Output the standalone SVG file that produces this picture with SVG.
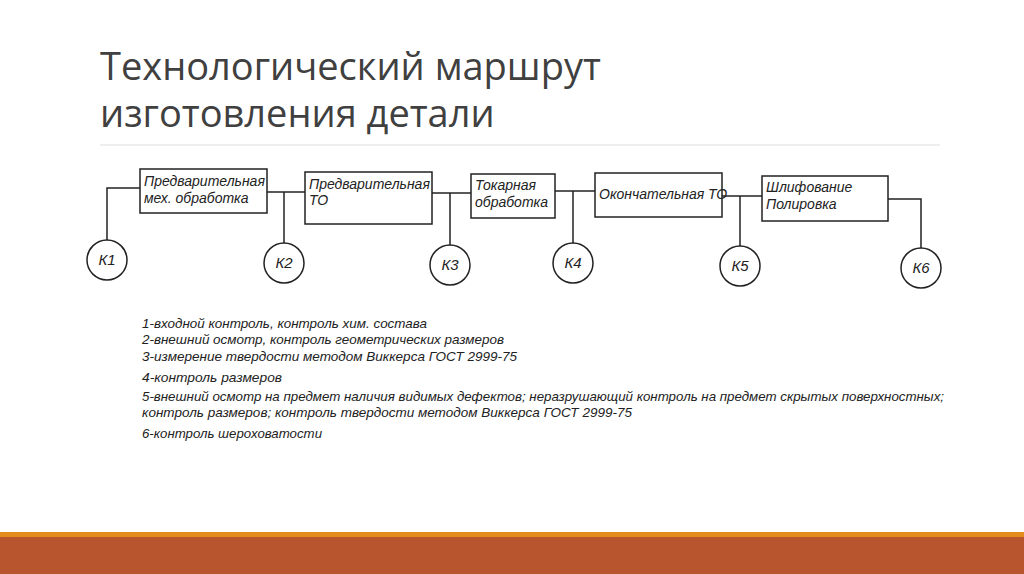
<svg xmlns="http://www.w3.org/2000/svg" width="1024" height="574" viewBox="0 0 1024 574">
<style>
.t{font-family:"Liberation Sans",Arial,sans-serif;font-style:italic;fill:#222}
.b{fill:#fff;stroke:#222;stroke-width:1.5}
.c{stroke:#222;stroke-width:1.5;fill:none}
.n{font-size:14px}
.k{font-size:15px}
.l{font-size:13.5px}
</style>
<rect width="1024" height="574" fill="#fff"/>
<text x="100" y="80" font-family="'Open Sans','Liberation Sans',sans-serif" font-size="38" fill="#404040">Технологический маршрут</text>
<text x="100" y="127" font-family="'Open Sans','Liberation Sans',sans-serif" font-size="38" fill="#404040">изготовления детали</text>
<line x1="100" y1="145" x2="940" y2="145" stroke="#ddd" stroke-width="1"/>
<g id="connectors" class="c">
<polyline points="140,188 107,188 107,240"/>
<line x1="267" y1="192" x2="305" y2="192"/><line x1="284" y1="192" x2="284" y2="243"/>
<line x1="432" y1="193" x2="471" y2="193"/><line x1="450" y1="193" x2="450" y2="245"/>
<line x1="555" y1="191" x2="595" y2="191"/><line x1="573" y1="191" x2="573" y2="243"/>
<line x1="722" y1="196" x2="762" y2="196"/><line x1="740" y1="196" x2="740" y2="246"/>
<polyline points="888,199 921,199 921,248"/>
</g>
<g id="op1"><rect class="b" x="140" y="169" width="127" height="44"/><text class="t n" x="144" y="186">Предварительная</text><text class="t n" x="144" y="203">мех. обработка</text></g>
<g id="op2"><rect class="b" x="305" y="172" width="127" height="52"/><text class="t n" x="309" y="189">Предварительная</text><text class="t n" x="309" y="205">ТО</text></g>
<g id="op3"><rect class="b" x="471" y="174" width="84" height="44"/><text class="t n" x="475" y="190">Токарная</text><text class="t n" x="475" y="207">обработка</text></g>
<g id="op4"><rect class="b" x="595" y="173" width="127" height="44"/><text class="t n" x="599" y="199">Окончательная ТО</text></g>
<g id="op5"><rect class="b" x="762" y="176" width="126" height="45"/><text class="t n" x="766" y="192">Шлифование</text><text class="t n" x="766" y="209">Полировка</text></g>
<g id="K1"><circle class="b" cx="107" cy="260" r="20"/><text class="t k" x="107" y="265" text-anchor="middle">К1</text></g>
<g id="K2"><circle class="b" cx="284" cy="263" r="20"/><text class="t k" x="284" y="268" text-anchor="middle">К2</text></g>
<g id="K3"><circle class="b" cx="450" cy="265" r="20"/><text class="t k" x="450" y="270" text-anchor="middle">К3</text></g>
<g id="K4"><circle class="b" cx="573" cy="263" r="20"/><text class="t k" x="573" y="268" text-anchor="middle">К4</text></g>
<g id="K5"><circle class="b" cx="740" cy="266" r="20"/><text class="t k" x="740" y="271" text-anchor="middle">К5</text></g>
<g id="K6"><circle class="b" cx="921" cy="268" r="20"/><text class="t k" x="921" y="273" text-anchor="middle">К6</text></g>
<g id="legend">
<text class="t l" x="142" y="328" textLength="285" lengthAdjust="spacingAndGlyphs">1-входной контроль, контроль хим. состава</text>
<text class="t l" x="142" y="344" textLength="362" lengthAdjust="spacingAndGlyphs">2-внешний осмотр, контроль геометрических размеров</text>
<text class="t l" x="142" y="361" textLength="375" lengthAdjust="spacingAndGlyphs">3-измерение твердости методом Виккерса ГОСТ 2999-75</text>
<text class="t l" x="142" y="382" textLength="140" lengthAdjust="spacingAndGlyphs">4-контроль размеров</text>
<text class="t l" x="142" y="401" textLength="802" lengthAdjust="spacingAndGlyphs">5-внешний осмотр на предмет наличия видимых дефектов; неразрушающий контроль на предмет скрытых поверхностных;</text>
<text class="t l" x="142" y="417" textLength="490" lengthAdjust="spacingAndGlyphs">контроль размеров; контроль твердости методом Виккерса ГОСТ 2999-75</text>
<text class="t l" x="142" y="438" textLength="180" lengthAdjust="spacingAndGlyphs">6-контроль шероховатости</text>
</g>
<rect x="0" y="532" width="1024" height="6" fill="#E48C1E"/>
<rect x="0" y="537" width="1024" height="37" fill="#B9552E"/>
</svg>
